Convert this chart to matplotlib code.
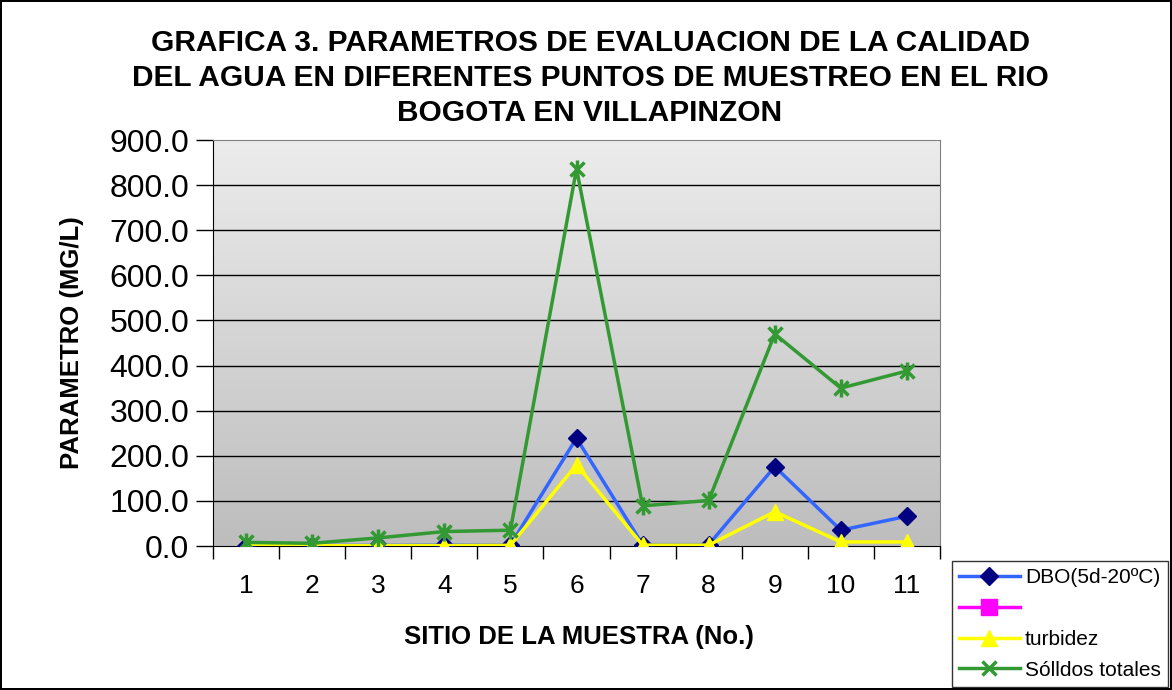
import matplotlib
matplotlib.use("Agg")
import matplotlib.pyplot as plt
import numpy as np

plt.rcParams['font.family'] = ['Liberation Sans', 'DejaVu Sans']

sitios = [1, 2, 3, 4, 5, 6, 7, 8, 9, 10, 11]
dbo = [1.0, 1.0, 1.5, 2.0, 2.0, 239.0, 3.0, 3.0, 176.0, 35.0, 66.0]
turbidez = [0.5, 0.5, 1.0, 1.0, 1.5, 180.0, 2.0, 2.0, 76.0, 9.0, 9.0]
solidos = [8.0, 6.0, 18.0, 32.0, 35.0, 836.0, 89.0, 101.0, 470.0, 350.0, 388.0]
titulo = ("GRAFICA 3. PARAMETROS DE EVALUACION DE LA CALIDAD\n"
          "DEL AGUA EN DIFERENTES PUNTOS DE MUESTREO EN EL RIO\n"
          "BOGOTA EN VILLAPINZON")

W, H = 1172, 690
fig = plt.figure(figsize=(W / 100, H / 100), dpi=100)
fig.patch.set_edgecolor('black')
fig.patch.set_linewidth(1.5)

ax = fig.add_axes([213 / W, 1 - 546 / H, 727 / W, 406 / H])

# gray gradient background, darker at the bottom
grad = np.linspace(0, 1, 256).reshape(-1, 1)
cmap = matplotlib.colors.LinearSegmentedColormap.from_list("g", ["#bdbdbd", "#ececec"])
ax.imshow(grad, cmap=cmap, aspect='auto', extent=(0.5, 11.5, 0, 900),
          origin='lower', zorder=0)
ax.set_xlim(0.5, 11.5)
ax.set_ylim(0, 900)

for y in range(100, 900, 100):
    ax.axhline(y, color='black', lw=1, zorder=1)

ax.plot(sitios, dbo, color='#3366ff', lw=2.5, marker='D', ms=9,
        mfc='#000080', mec='#000080', zorder=3, label='DBO(5d-20ºC)')
ax.plot([], [], color='#ff00ff', lw=2.5, marker='s', ms=11, label=' ')
ax.plot(sitios, turbidez, color='#ffff00', lw=2.5, marker='^', ms=12,
        mfc='#ffff00', mec='#ffff00', zorder=4, label='turbidez')
ax.plot(sitios, solidos, color='#339933', lw=2.5, marker='x', ms=10, mew=2.5,
        zorder=5, label='Sólldos totales')
ax.plot(sitios, solidos, ls='none', marker='|', ms=13, mew=2.5,
        color='#339933', zorder=5)

ax.set_yticks(range(0, 1000, 100))
ax.set_yticklabels([f"{v:.1f}" for v in range(0, 1000, 100)], fontsize=23)
ax.set_xticks(sitios)
ax.set_xticklabels([str(s) for s in sitios], fontsize=19)
ax.set_xticks(np.arange(0.5, 12, 1), minor=True)
ax.tick_params(axis='x', which='major', length=0, pad=20)
ax.tick_params(axis='x', which='minor', length=9, width=1, direction='out')
ax.tick_params(axis='y', length=12, width=1, direction='out', pad=5)
for s in ax.spines.values():
    s.set_color('#808080')
ax.spines['left'].set_color('black')
ax.spines['bottom'].set_color('black')

ax.set_xlabel("SITIO DE LA MUESTRA (No.)", fontsize=18.5, fontweight='bold')
ax.xaxis.set_label_coords((579 - 213) / 727, -(637 - 546) / 406)
ax.xaxis.label.set_va('center')
ax.set_ylabel("PARAMETRO (MG/L)", fontsize=18.5, fontweight='bold')
ax.yaxis.set_label_coords(-(213 - 72) / 727, 0.5)
ax.yaxis.label.set_va('center')

fig.text(590 / W, 1 - 78 / H, titulo, ha='center', va='center',
         fontsize=21.5, fontweight='bold', linespacing=1.3)

leg = fig.legend(loc='lower right', bbox_to_anchor=(1168 / W, 3 / H),
                 fontsize=15, frameon=True, fancybox=False, edgecolor='black',
                 handlelength=2.9, labelspacing=0.57, borderpad=0.35,
                 handletextpad=0.25, borderaxespad=0)
leg.get_frame().set_linewidth(1)

fig.savefig("out.png", dpi=100, edgecolor=fig.get_edgecolor())
